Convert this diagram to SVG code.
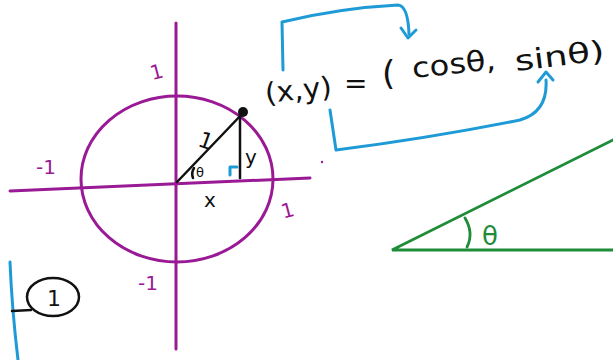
<svg xmlns="http://www.w3.org/2000/svg" width="613" height="360" viewBox="0 0 613 360">
<style>
.p{stroke:#9a1a96;stroke-width:3;fill:none;stroke-linecap:round}
.k{stroke:#111;stroke-width:2.5;fill:none;stroke-linecap:round}
.b{stroke:#1e9bd6;stroke-width:3;fill:none;stroke-linecap:round;stroke-linejoin:round}
.g{stroke:#1f8c3a;stroke-width:2.8;fill:none;stroke-linecap:round}
.t{font-family:"DejaVu Sans",sans-serif;fill:#111}
.tp{font-family:"DejaVu Sans",sans-serif;fill:#9a1a96}
.tg{font-family:"DejaVu Sans",sans-serif;fill:#1f8c3a}
</style>
<rect width="613" height="360" fill="#fff"/>
<g id="axes">
<line class="p" x1="176" y1="23" x2="176" y2="349"/>
<line class="p" x1="10" y1="191" x2="310" y2="178"/>
<ellipse class="p" cx="177" cy="179" rx="96" ry="83"/>
<text class="tp" x="150" y="80" font-size="20" transform="rotate(-15 152 72)">1</text>
<text class="tp" x="36" y="174" font-size="20">-1</text>
<text class="tp" x="281" y="218" font-size="20" transform="rotate(-15 285 210)">1</text>
<text class="tp" x="138" y="290" font-size="20">-1</text>
<circle cx="322" cy="162" r="1.2" fill="#9a1a96"/>
</g>
<g id="triangle">
<line class="k" x1="177" y1="182" x2="243" y2="113"/>
<line class="k" x1="240" y1="114" x2="240" y2="178"/>
<circle cx="243" cy="112" r="5" fill="#111"/>
<path class="b" d="M230 175 V167 H237" stroke-width="2.5"/>
<text class="t" x="199" y="148" font-size="22" transform="rotate(20 205 140)">1</text>
<text class="t" x="245" y="164" font-size="20">y</text>
<text class="t" x="204" y="207" font-size="20">x</text>
<path class="k" d="M194 168 Q191 173 193 178" stroke-width="1.8"/>
<text class="t" x="196" y="177" font-size="13">θ</text>
</g>
<g id="equation">
<text class="t" x="266" y="103" font-size="28" textLength="67" lengthAdjust="spacingAndGlyphs" transform="rotate(-6 266 103)">(x,y)</text>
<text class="t" x="344" y="93" font-size="28">=</text>
<text class="t" x="382" y="85" font-size="34">(</text>
<text class="t" x="413" y="78" font-size="28" textLength="84" lengthAdjust="spacingAndGlyphs" transform="rotate(-6 413 78)">cosθ,</text>
<text class="t" x="516" y="71" font-size="28" textLength="90" lengthAdjust="spacingAndGlyphs" transform="rotate(-7 516 71)">sinθ)</text>
</g>
<g id="connectors">
<path class="b" d="M283 70 L282 22 Q340 8 398 5 Q408 6 409 34"/>
<path class="b" d="M401 28 L408 38 L416 30"/>
<path class="b" d="M330 110 L336 150 Q430 138 520 120 Q548 112 546 80"/>
<path class="b" d="M538 82 L546 72 L553 80"/>
</g>
<g id="note">
<path class="b" d="M10 262 Q12 310 18 360"/>
<line class="k" x1="12" y1="311" x2="31" y2="310"/>
<ellipse class="k" cx="53" cy="297" rx="26" ry="19"/>
<text class="t" x="47" y="306" font-size="22">1</text>
</g>
<g id="green">
<path class="g" d="M613 140 L392 250 L613 250"/>
<path class="g" d="M465 218 Q474 233 467 247"/>
<text class="tg" x="482" y="245" font-size="26">θ</text>
</g>
</svg>
